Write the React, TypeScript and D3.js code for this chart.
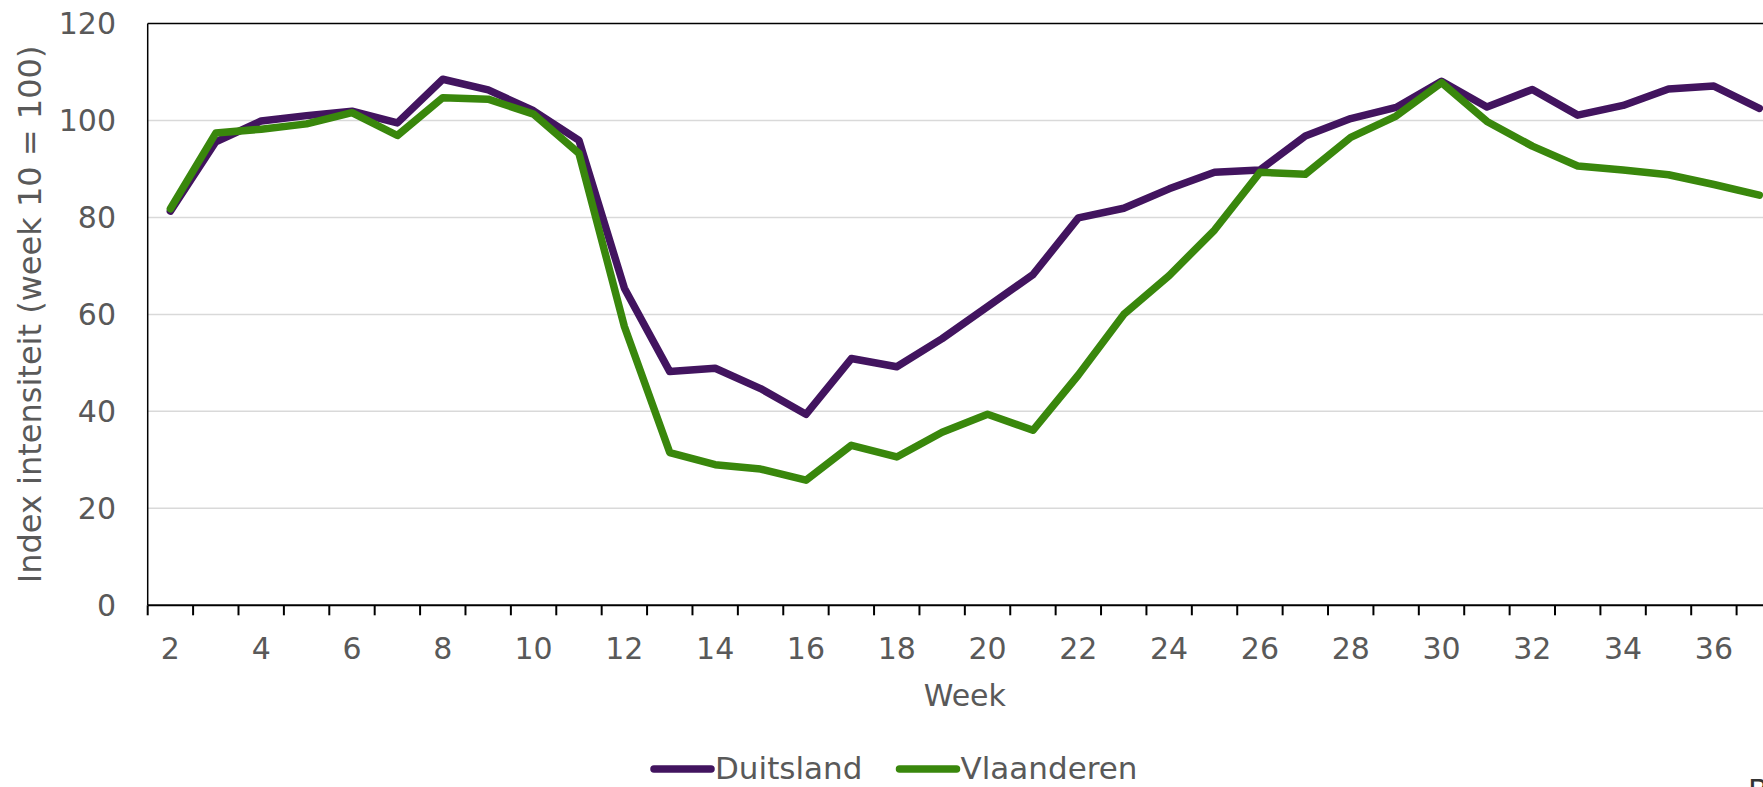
import React, { useEffect, useRef } from "react";
import * as d3 from "d3";

// Index intensiteit per week (week 10 = 100)
const weeks = [2, 3, 4, 5, 6, 7, 8, 9, 10, 11, 12, 13, 14, 15, 16, 17, 18, 19, 20, 21, 22, 23, 24, 25, 26, 27, 28, 29, 30, 31, 32, 33, 34, 35, 36, 37];
const duitsland = [81.3, 95.6, 99.9, 101.0, 101.9, 99.5, 108.5, 106.3, 102.0, 95.9, 65.4, 48.2, 48.9, 44.7, 39.4, 50.9, 49.2, 55.0, 61.6, 68.2, 79.9, 81.9, 85.9, 89.3, 89.8, 96.8, 100.4, 102.7, 108.1, 102.8, 106.4, 101.1, 103.1, 106.5, 107.1, 102.5];
const vlaanderen = [81.8, 97.4, 98.2, 99.3, 101.6, 96.9, 104.7, 104.4, 101.3, 93.2, 57.5, 31.5, 29.0, 28.1, 25.8, 33.0, 30.6, 35.7, 39.4, 36.1, 47.5, 60.0, 68.0, 77.4, 89.3, 88.9, 96.5, 100.9, 107.8, 99.8, 94.7, 90.6, 89.8, 88.8, 86.8, 84.6];
const weekLabels = [2, 4, 6, 8, 10, 12, 14, 16, 18, 20, 22, 24, 26, 28, 30, 32, 34, 36];
const yTicks = [0, 20, 40, 60, 80, 100, 120];
const series = [
  { name: "Duitsland", values: duitsland, color: "#42145f" },
  { name: "Vlaanderen", values: vlaanderen, color: "#39870c" },
];

const FONT = "DejaVu Sans, Verdana, sans-serif";
const TEXT = "#595959";

export default function App() {
  const ref = useRef<SVGSVGElement>(null);

  useEffect(() => {
    const svg = d3.select(ref.current);
    svg.selectAll("*").remove();

    const left = 147.7;
    const right = 1782;
    const top = 23.5;
    const bottom = 605.3;

    const x = d3.scaleBand<number>().domain(weeks).range([left, right]).padding(0);
    const y = d3.scaleLinear().domain([0, 120]).range([bottom, top]);
    const cx = (w: number) => (x(w) as number) + x.bandwidth() / 2;

    // gridlines
    svg.append("g")
      .selectAll("line")
      .data(yTicks.filter(t => t > 0 && t < 120))
      .enter().append("line")
      .attr("x1", left).attr("x2", right)
      .attr("y1", d => y(d)).attr("y2", d => y(d))
      .attr("stroke", "#d9d9d9")
      .attr("stroke-width", 1.5);

    // frame: top + left
    svg.append("line")
      .attr("x1", left).attr("x2", right).attr("y1", top).attr("y2", top)
      .attr("stroke", "#000").attr("stroke-width", 1.5);
    svg.append("line")
      .attr("x1", left).attr("x2", left).attr("y1", top).attr("y2", bottom)
      .attr("stroke", "#000").attr("stroke-width", 1.5);

    // x axis with ticks at band edges
    svg.append("line")
      .attr("x1", left).attr("x2", right).attr("y1", bottom).attr("y2", bottom)
      .attr("stroke", "#000").attr("stroke-width", 2);
    svg.append("g")
      .selectAll("line")
      .data(weeks)
      .enter().append("line")
      .attr("x1", d => x(d) as number).attr("x2", d => x(d) as number)
      .attr("y1", bottom).attr("y2", bottom + 10)
      .attr("stroke", "#000").attr("stroke-width", 2);

    svg.append("g")
      .selectAll("text")
      .data(weekLabels)
      .enter().append("text")
      .attr("x", d => cx(d))
      .attr("y", 659)
      .attr("text-anchor", "middle")
      .attr("font-family", FONT).attr("font-size", 30).attr("fill", TEXT)
      .text(d => d);

    // y axis labels
    svg.append("g")
      .selectAll("text")
      .data(yTicks)
      .enter().append("text")
      .attr("x", 116)
      .attr("y", d => y(d))
      .attr("dy", "0.36em")
      .attr("text-anchor", "end")
      .attr("font-family", FONT).attr("font-size", 30).attr("fill", TEXT)
      .text(d => d);

    // axis titles
    svg.append("text")
      .attr("transform", `translate(41, ${(top + bottom) / 2}) rotate(-90)`)
      .attr("text-anchor", "middle")
      .attr("font-family", FONT).attr("font-size", 32).attr("fill", TEXT)
      .text("Index intensiteit (week 10 = 100)");
    svg.append("text")
      .attr("x", (left + right) / 2)
      .attr("y", 706)
      .attr("text-anchor", "middle")
      .attr("font-family", FONT).attr("font-size", 30).attr("fill", TEXT)
      .text("Week");

    // lines
    const line = d3.line<number>()
      .x((_, i) => cx(weeks[i]))
      .y(d => y(d));
    series.forEach(s => {
      svg.append("path")
        .datum(s.values)
        .attr("d", line)
        .attr("fill", "none")
        .attr("stroke", s.color)
        .attr("stroke-width", 7.5)
        .attr("stroke-linejoin", "round")
        .attr("stroke-linecap", "round");
    });

    // legend
    const legendX = [654, 899.5];
    series.forEach((s, i) => {
      svg.append("line")
        .attr("x1", legendX[i]).attr("x2", legendX[i] + 57)
        .attr("y1", 769).attr("y2", 769)
        .attr("stroke", s.color).attr("stroke-width", 7.5)
        .attr("stroke-linecap", "round");
      svg.append("text")
        .attr("x", legendX[i] + 61)
        .attr("y", 779)
        .attr("font-family", FONT).attr("font-size", 31).attr("fill", TEXT)
        .text(s.name);
    });

    // source line, cut off at the bottom edge
    svg.append("text")
      .attr("x", 1748).attr("y", 801)
      .attr("font-family", FONT).attr("font-size", 30).attr("fill", "#333")
      .text("B");
  }, []);

  return (
    <div style={{ position: "absolute", left: 0, top: 0, width: 1763, height: 787, overflow: "hidden", background: "#fff" }}>
      <svg ref={ref} width={1763} height={787} style={{ display: "block" }} />
    </div>
  );
}
